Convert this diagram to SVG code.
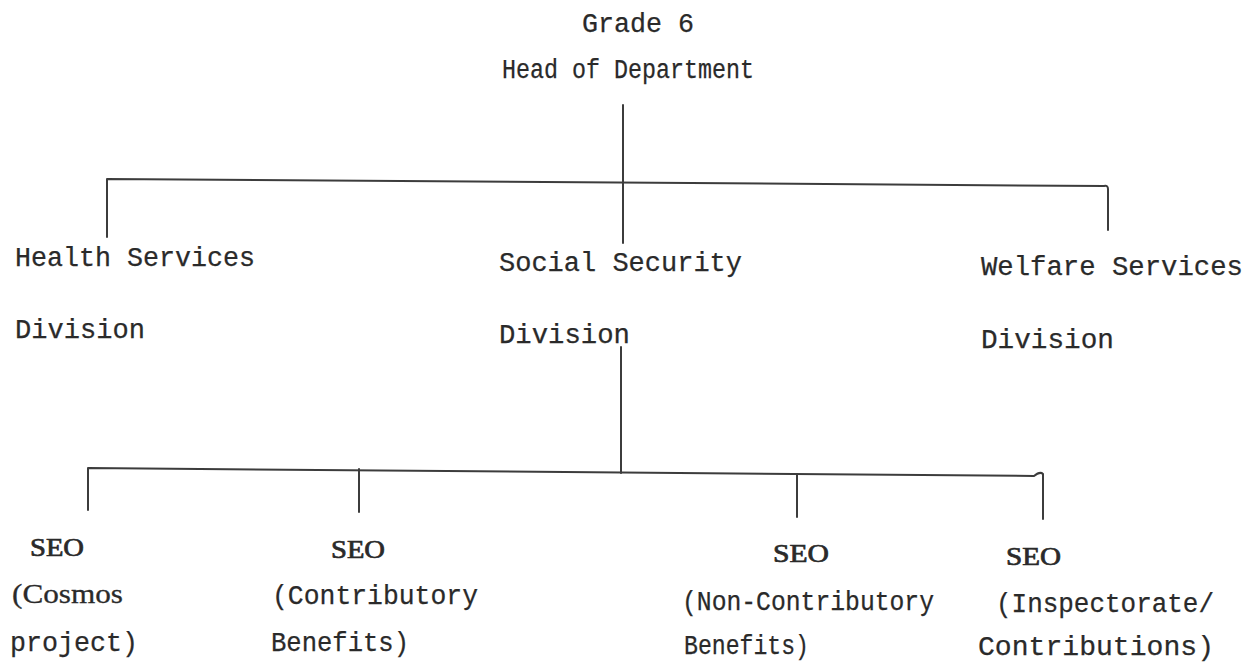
<svg xmlns="http://www.w3.org/2000/svg" width="1252" height="666" viewBox="0 0 1252 666">
  <style>
    .tw { font-family: "Liberation Mono", "DejaVu Sans Mono", monospace; font-size: 27px; fill: #2a2a2a; stroke: #2a2a2a; stroke-width: 0.25px; }
    .rm { font-family: "Liberation Serif", "Times New Roman", serif; font-size: 28px; fill: #2a2a2a; stroke: #2a2a2a; stroke-width: 0.3px; }
    .seo { font-family: "Liberation Serif", "Times New Roman", serif; font-size: 25px; fill: #2a2a2a; stroke: #2a2a2a; stroke-width: 0.7px; }
    .ln { fill: none; stroke: #3c3c3c; stroke-width: 2px; stroke-linecap: round; stroke-linejoin: round; }
  </style>
  <rect width="1252" height="666" fill="#ffffff"/>

  <!-- connectors -->
  <g id="connectors" class="ln">
    <!-- head to divisions -->
    <path d="M623 105 V243"/>
    <path d="M107 237 V179 L1104 186 Q1108 185 1108 189 V230"/>
    <!-- social security to SEOs -->
    <path d="M621 347 V473"/>
    <path d="M88 510 V468 L1034 476 Q1040 471 1043 474 V519"/>
    <path d="M359 469 V512"/>
    <path d="M797 474 V517"/>
  </g>

  <g id="head">
    <text class="tw" x="582" y="32" textLength="112" lengthAdjust="spacingAndGlyphs">Grade 6</text>
    <text class="tw" x="502" y="78" textLength="252" lengthAdjust="spacingAndGlyphs">Head of Department</text>
  </g>

  <g id="health-services">
    <text class="tw" x="15" y="266" textLength="240" lengthAdjust="spacingAndGlyphs">Health Services</text>
    <text class="tw" x="15" y="338" textLength="130" lengthAdjust="spacingAndGlyphs">Division</text>
  </g>

  <g id="social-security">
    <text class="tw" x="499" y="271" textLength="243" lengthAdjust="spacingAndGlyphs">Social Security</text>
    <text class="tw" x="499" y="343" textLength="131" lengthAdjust="spacingAndGlyphs">Division</text>
  </g>

  <g id="welfare-services">
    <text class="tw" x="981" y="275" textLength="262" lengthAdjust="spacingAndGlyphs">Welfare Services</text>
    <text class="tw" x="981" y="348" textLength="133" lengthAdjust="spacingAndGlyphs">Division</text>
  </g>

  <g id="seo-cosmos">
    <text class="seo" x="30" y="556" textLength="54" lengthAdjust="spacingAndGlyphs">SEO</text>
    <text class="rm" x="12" y="603" textLength="111" lengthAdjust="spacingAndGlyphs">(Cosmos</text>
    <text class="tw" x="10" y="651" textLength="128" lengthAdjust="spacingAndGlyphs">project)</text>
  </g>

  <g id="seo-contributory">
    <text class="seo" x="331" y="558" textLength="54" lengthAdjust="spacingAndGlyphs">SEO</text>
    <text class="tw" x="272" y="604" textLength="206" lengthAdjust="spacingAndGlyphs">(Contributory</text>
    <text class="tw" x="271" y="651" textLength="138" lengthAdjust="spacingAndGlyphs">Benefits)</text>
  </g>

  <g id="seo-non-contributory">
    <text class="seo" x="773" y="562" textLength="56" lengthAdjust="spacingAndGlyphs">SEO</text>
    <text class="tw" x="682" y="610" textLength="252" lengthAdjust="spacingAndGlyphs">(Non-Contributory</text>
    <text class="tw" x="684" y="654" textLength="125" lengthAdjust="spacingAndGlyphs">Benefits)</text>
  </g>

  <g id="seo-inspectorate">
    <text class="seo" x="1006" y="565" textLength="55" lengthAdjust="spacingAndGlyphs">SEO</text>
    <text class="tw" x="996" y="612" textLength="218" lengthAdjust="spacingAndGlyphs">(Inspectorate/</text>
    <text class="tw" x="978" y="655" textLength="236" lengthAdjust="spacingAndGlyphs">Contributions)</text>
  </g>
</svg>
